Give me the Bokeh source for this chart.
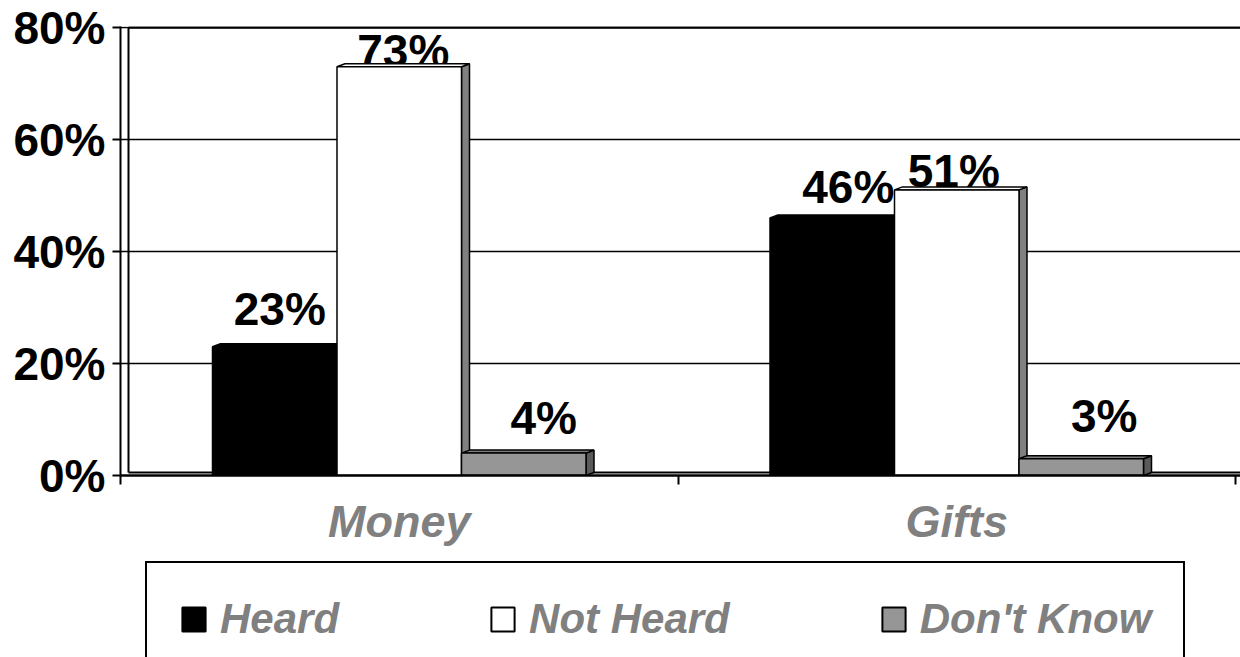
from bokeh.plotting import figure
from bokeh.layouts import column
from bokeh.models import Range1d, FixedTicker, Legend, LegendItem, ColumnDataSource
from bokeh.core.properties import value
from bokeh.embed import file_html
from bokeh.resources import INLINE

# ---- data ----
categories = ["Money", "Gifts"]
series = ["Heard", "Not Heard", "Don't Know"]
heard = [23, 46]
not_heard = [73, 51]
dont_know = [4, 3]
y_ticks = [0, 20, 40, 60, 80]

# ---- layout / style ----
FONT = "Liberation Sans"
W = 1240
H1, H2 = 560, 97                    # chart figure, legend strip
LEFT, TOP = 120, 26
FRAME_BOTTOM = 475
BOTTOM = H1 - FRAME_BOTTOM
frame_w = W - LEFT
PX_CAT = 557.5                      # pixels per category
PX_Y = 5.6                          # pixels per percent
x_end = frame_w / PX_CAT
y_end = y_ticks[-1]
y_top = y_end + 1 / PX_Y
DX = 8 / PX_CAT                     # 3-D depth, x
DY = 3 / PX_Y                       # 3-D depth, y
BAR_W = 124.5 / PX_CAT

front_colors = ["#000000", "#ffffff", "#969696"]
top_colors = ["#000000", "#ffffff", "#808080"]
side_colors = ["#000000", "#808080", "#5a5a5a"]
# label offsets in px (x right, y down) relative to bar top centre
lab_dx = [[5, 16], [4, -3], [20, 23]]
lab_dy = [[-38, -31], [-16, -19], [-35, -43]]

p = figure(width=W, height=H1, x_range=Range1d(0, x_end), y_range=Range1d(0, y_top),
           output_backend="svg", toolbar_location=None,
           min_border_left=LEFT, min_border_right=0, min_border_top=TOP,
           min_border_bottom=BOTTOM)
p.outline_line_color = None
p.background_fill_color = "white"
p.border_fill_color = "white"

# y axis
ya = p.yaxis[0]
ya.ticker = FixedTicker(ticks=y_ticks, minor_ticks=[])
ya.major_label_overrides = {t: f"{t}%" for t in y_ticks}
ya.major_label_text_font = FONT
ya.major_label_text_font_size = "46px"
ya.major_label_text_font_style = "bold"
ya.major_label_text_color = "black"
ya.major_tick_out = 8
ya.major_tick_in = 0
ya.major_tick_line_width = 2
ya.axis_line_width = 2
ya.major_label_standoff = 7

# x axis
xa = p.xaxis[0]
xa.ticker = FixedTicker(ticks=[0.5 + i for i in range(len(categories))],
                        minor_ticks=list(range(len(categories) + 1)))
xa.major_label_overrides = {0.5 + i: c for i, c in enumerate(categories)}
xa.major_tick_out = 0
xa.major_tick_in = 0
xa.minor_tick_out = 9
xa.minor_tick_in = 0
xa.minor_tick_line_width = 2
xa.axis_line_width = 2.5
xa.major_label_text_font = FONT
xa.major_label_text_font_size = "45px"
xa.major_label_text_font_style = "bold italic"
xa.major_label_text_color = "#808080"
xa.major_label_standoff = 11

p.xgrid.visible = False
p.ygrid.ticker = FixedTicker(ticks=y_ticks)
p.ygrid.grid_line_color = "black"
p.ygrid.grid_line_width = 1.5

# back wall edge and floor back edge
p.segment(x0=[DX], y0=[DY], x1=[DX], y1=[y_end], line_color="black", line_width=2)
p.segment(x0=[DX], y0=[DY], x1=[x_end], y1=[DY], line_color="black", line_width=2)
p.segment(x0=[DX], y0=[y_end], x1=[x_end], y1=[y_end], line_color="black", line_width=2.5)

vals = [heard, not_heard, dont_know]

# data labels (drawn first, bars may cover them)
lx, ly, lt, ox, oy = [], [], [], [], []
for i, v in enumerate(vals):
    for c, h in enumerate(v):
        lx.append(c + 0.5 + (i - 1) * BAR_W)
        ly.append(h)
        lt.append(f"{h}%")
        ox.append(lab_dx[i][c])
        oy.append(lab_dy[i][c])
lab_src = ColumnDataSource(dict(x=lx, y=ly, text=lt, ox=ox, oy=oy))
p.text(x="x", y="y", text="text", x_offset="ox", y_offset="oy", source=lab_src,
       text_font=value(FONT), text_font_size="46px", text_font_style="bold",
       text_color="black", text_align="center", text_baseline="alphabetic")

bar_geo = []
for i, v in enumerate(vals):
    left = [c + 0.5 + (i - 1.5) * BAR_W for c in range(len(categories))]
    right = [l + BAR_W for l in left]
    bar_geo.append((left, right, v))
    p.patches(xs=[[r, r + DX, r + DX, r] for r in right],
              ys=[[0, DY, h + DY, h] for h in v],
              fill_color=side_colors[i], line_color="black", line_width=1.5)
    p.patches(xs=[[l, l + DX, r + DX, r] for l, r in zip(left, right)],
              ys=[[h, h + DY, h + DY, h] for h in v],
              fill_color=top_colors[i], line_color="black", line_width=1.5)
    p.quad(left=left, right=right, bottom=0, top=v,
           fill_color=front_colors[i], line_color="black", line_width=1.5)

# ---- legend strip (bars repeated out of view, only as legend keys) ----
p2 = figure(width=W, height=H2, x_range=p.x_range, y_range=Range1d(-2, -1),
            output_backend="svg", toolbar_location=None,
            min_border_left=0, min_border_right=0, min_border_top=0, min_border_bottom=0)
p2.axis.visible = False
p2.grid.visible = False
p2.outline_line_color = None
p2.background_fill_color = "white"
p2.border_fill_color = "white"
keys = []
for i, s in enumerate(series):
    left, right, v = bar_geo[i]
    r = p2.quad(left=left, right=right, bottom=0, top=v,
                fill_color=front_colors[i], line_color="black", line_width=2)
    keys.append(LegendItem(label=s, renderers=[r]))

legend = Legend(items=keys, location=(25, -20), orientation="horizontal",
                label_text_font=FONT, label_text_font_size="42px",
                label_text_font_style="bold italic", label_text_color="#808080",
                label_text_baseline="alphabetic",
                glyph_width=29, glyph_height=30, label_standoff=12, spacing=149,
                padding=32, border_line_color="black", border_line_width=2,
                border_line_alpha=1.0,
                background_fill_color="white", background_fill_alpha=1.0)
p2.add_layout(legend)

layout = column(p, p2, spacing=0)
open("out.html", "w").write(file_html(layout, INLINE))
